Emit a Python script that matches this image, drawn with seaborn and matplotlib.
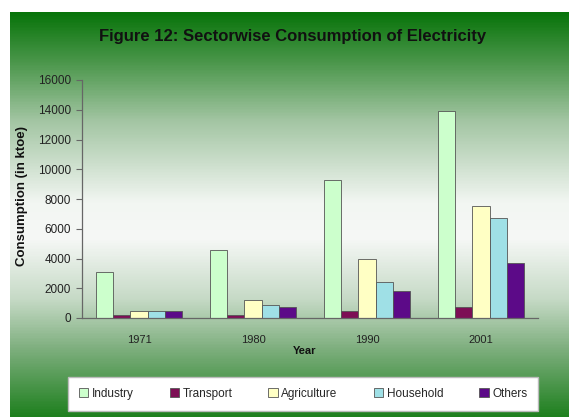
import numpy as np
import pandas as pd
import matplotlib
matplotlib.use("Agg")
import matplotlib.pyplot as plt
from matplotlib.colors import LinearSegmentedColormap
import seaborn as sns

years = ["1971", "1980", "1990", "2001"]
sectors = ["Industry", "Transport", "Agriculture", "Household", "Others"]
industry = [3100, 4600, 9300, 13900]
transport = [180, 220, 490, 760]
agriculture = [450, 1230, 3950, 7550]
household = [450, 870, 2430, 6740]
others = [450, 740, 1830, 3680]
yticks = [0, 2000, 4000, 6000, 8000, 10000, 12000, 14000, 16000]

colors = ["#ccffcc", "#7d0f55", "#ffffc4", "#9fe0e6", "#5c0a88"]

rows = []
for s, vals in zip(sectors, [industry, transport, agriculture, household, others]):
    for y, v in zip(years, vals):
        rows.append({"Year": y, "Sector": s, "Value": v})
df = pd.DataFrame(rows)

sns.set_theme(style="white")
plt.rcParams["font.family"] = ["Liberation Sans", "DejaVu Sans"]

W, H = 572, 417
fig = plt.figure(figsize=(W / 100, H / 100), dpi=100, facecolor="white")

# gradient background
bg = fig.add_axes([10 / W, 0, (569 - 10) / W, (H - 12) / H], zorder=-10)
stops = [(0.0, "#08740a"), (0.12, "#4a964a"), (0.27, "#a4c6a4"),
         (0.47, "#f2f6f2"), (0.56, "#f6f8f6"), (0.71, "#c6dac6"),
         (0.83, "#80b080"), (1.0, "#1f801f")]
cmap = LinearSegmentedColormap.from_list("bgg", stops)
grad = np.linspace(0, 1, 400).reshape(-1, 1)
bg.imshow(grad, aspect="auto", cmap=cmap, extent=[0, 1, 1, 0])
bg.axis("off")

ax = fig.add_axes([82 / W, 1 - 318 / H, (538 - 82) / W, (318 - 80) / H])
ax.patch.set_alpha(0)
sns.barplot(data=df, x="Year", y="Value", hue="Sector", order=years,
            hue_order=sectors, palette=colors, width=0.76, ax=ax,
            edgecolor="#555555", linewidth=0.6, saturation=1, legend=False)

ax.set_ylim(0, 16000)
ax.set_xlim(-0.5, 3.5)
ax.set_yticks(yticks)
ax.set_yticklabels([str(t) for t in yticks], fontsize=8.5, color="#222222")
ax.set_xticks(range(len(years)))
ax.set_xticklabels(years, fontsize=8, color="#222222")
ax.set_xticks([-0.5, 0.5, 1.5, 2.5, 3.5], minor=True)
ax.tick_params(axis="x", which="major", length=0, pad=12)
ax.tick_params(axis="x", which="minor", length=4, direction="out", color="#666666", width=0.8)
ax.tick_params(axis="y", length=4, direction="out", color="#666666", width=0.8, pad=4, left=True)
ax.set_xlabel("")
ax.set_ylabel("")
for s in ["top", "right"]:
    ax.spines[s].set_visible(False)
for s in ["left", "bottom"]:
    ax.spines[s].set_color("#666666")
    ax.spines[s].set_linewidth(0.9)

fig.text(293 / W, 1 - 37 / H, "Figure 12: Sectorwise Consumption of Electricity",
         ha="center", va="center", fontsize=12, fontweight="bold", color="#111111")
fig.text(22 / W, 1 - 196 / H, "Consumption (in ktoe)", rotation=90,
         ha="center", va="center", fontsize=9.5, fontweight="bold", color="#111111")
fig.text(305 / W, 1 - 351 / H, "Year", ha="center", va="center",
         fontsize=8, fontweight="bold", color="#111111")

handles = [plt.Rectangle((0, 0), 1, 1, facecolor=c, edgecolor="#555555", linewidth=0.6)
           for c in colors]
leg = fig.legend(handles, sectors, loc="center", ncol=5,
                 bbox_to_anchor=(68 / W, 1 - 413 / H, (538 - 68) / W, 38 / H),
                 mode="expand", fontsize=8.5, frameon=True, fancybox=False,
                 handlelength=0.8, handleheight=0.8, handletextpad=0.3,
                 borderaxespad=0, borderpad=0.9)
leg.get_frame().set_facecolor("white")
leg.get_frame().set_edgecolor("#bbbbbb")
leg.get_frame().set_alpha(1)

fig.savefig("out.png", dpi=100, facecolor="white")
